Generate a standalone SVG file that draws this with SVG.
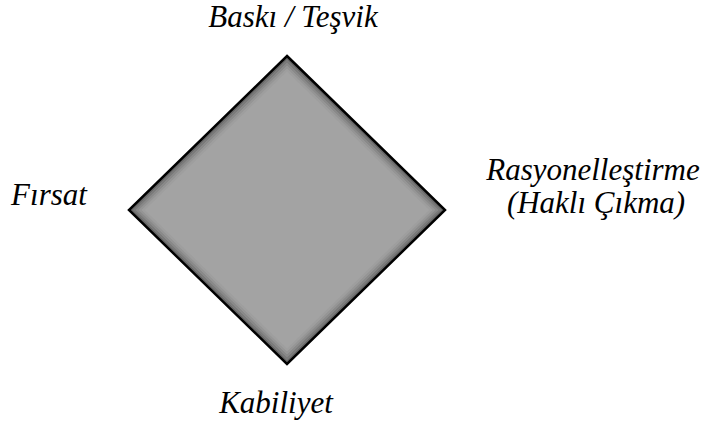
<svg xmlns="http://www.w3.org/2000/svg" width="704" height="423" viewBox="0 0 704 423">
<g id="shape">
<polygon points="287,56 445,210 287,364 129,210" fill="#a3a3a3"/>
<g fill="none" stroke-width="2.2">
<polygon points="287,58.8 442.1,210 287,361.2 131.9,210" stroke="#686868"/>
<polygon points="287,61.6 439.3,210 287,358.4 134.7,210" stroke="#7a7a7a"/>
<polygon points="287,64.4 436.4,210 287,355.6 137.6,210" stroke="#898989"/>
<polygon points="287,67.2 433.5,210 287,352.8 140.5,210" stroke="#959595"/>
<polygon points="287,70 430.7,210 287,350 143.3,210" stroke="#9e9e9e"/>
</g>
<polygon points="287,56 445,210 287,364 129,210" fill="none" stroke="#000" stroke-width="2.5"/>
</g>
<g id="edges"></g>
<g id="t1"><text x="293" y="27" font-family="Liberation Serif" font-style="italic" font-size="31" text-anchor="middle">Baskı / Teşvik</text></g>
<g id="t2"><text x="49" y="205" font-family="Liberation Serif" font-style="italic" font-size="31" text-anchor="middle">Fırsat</text></g>
<g id="t3"><text x="593" y="180" font-family="Liberation Serif" font-style="italic" font-size="31" text-anchor="middle">Rasyonelleştirme</text><text x="596" y="213" font-family="Liberation Serif" font-style="italic" font-size="31" text-anchor="middle">(Haklı Çıkma)</text></g>
<g id="t4"><text x="276" y="413" font-family="Liberation Serif" font-style="italic" font-size="31" text-anchor="middle">Kabiliyet</text></g>
</svg>
